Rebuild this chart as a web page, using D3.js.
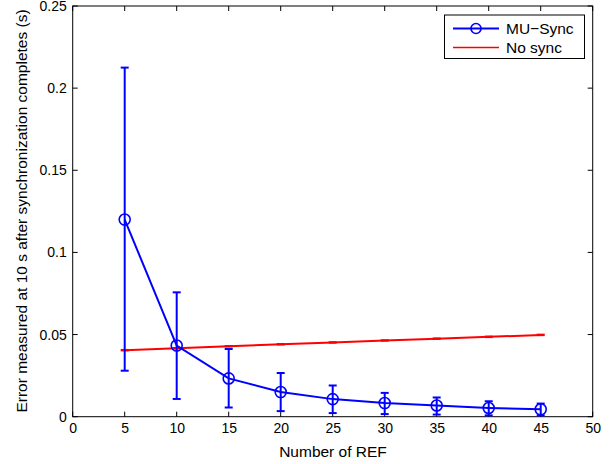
<!DOCTYPE html>
<html><head><meta charset="utf-8">
<script src="https://cdn.jsdelivr.net/npm/d3@7"></script>
<style>body{margin:0;background:#fff}svg{display:block}text{font-family:"Liberation Sans",Arial,sans-serif}</style>
</head><body><svg id="c" width="615" height="464"></svg>
<script>
const refCounts = [5,10,15,20,25,30,35,40,45];
const muSyncMean = [0.1200,0.0433,0.0233,0.0150,0.0107,0.0083,0.0068,0.0053,0.0045];
const muSyncUpper = [0.2125,0.0757,0.0412,0.0266,0.0190,0.0145,0.0117,0.0094,0.0080];
const muSyncLower = [0.0280,0.0108,0.0056,0.0034,0.0022,0.0016,0.0013,0.0008,0.0008];
const noSyncMean = [0.0405,0.0417,0.0429,0.0441,0.0452,0.0464,0.0475,0.0486,0.0498];
const noSyncErr = [0.0003,0.0003,0.0003,0.0003,0.0003,0.0003,0.0003,0.0003,0.0003];
const xTicks = [0,5,10,15,20,25,30,35,40,45,50];
const yTicks = [0,0.05,0.1,0.15,0.2,0.25];
const yTickLabels = ["0","0.05","0.1","0.15","0.2","0.25"];
const seriesNames = ["MU\u2212Sync","No sync"];

const svg = d3.select("#c");
const L=72.7,R=592.7,T=6,B=416.7;
const x = d3.scaleLinear().domain([0,50]).range([L,R]);
const y = d3.scaleLinear().domain([0,0.25]).range([B,T]);

// frame
svg.append("rect").attr("x",L).attr("y",T).attr("width",R-L).attr("height",B-T)
  .attr("fill","none").attr("stroke","#000").attr("stroke-width",1);

// axes
const xb = svg.append("g").attr("transform",`translate(0,${B})`)
  .call(d3.axisBottom(x).tickValues(xTicks).tickSize(0).tickPadding(6).tickFormat(d3.format("d")));
const yl = svg.append("g").attr("transform",`translate(${L},0)`)
  .call(d3.axisLeft(y).tickValues(yTicks).tickSize(0).tickPadding(6).tickFormat((d,i)=>yTickLabels[i]));
[xb,yl].forEach(g=>{g.select(".domain").remove();g.selectAll("text").attr("font-size",14).attr("fill","#000").style("font-family","'Liberation Sans',Arial,sans-serif");});
// inward ticks on all sides
const tk = svg.append("g").attr("stroke","#000").attr("stroke-width",1);
xTicks.forEach(v=>{
  tk.append("line").attr("x1",x(v)).attr("x2",x(v)).attr("y1",B).attr("y2",B-5);
  tk.append("line").attr("x1",x(v)).attr("x2",x(v)).attr("y1",T).attr("y2",T+5);
});
yTicks.forEach(v=>{
  tk.append("line").attr("x1",L).attr("x2",L+5).attr("y1",y(v)).attr("y2",y(v));
  tk.append("line").attr("x1",R).attr("x2",R-5).attr("y1",y(v)).attr("y2",y(v));
});

// axis labels
svg.append("text").attr("x",333).attr("y",457).attr("text-anchor","middle").attr("font-size",15.5).text("Number of REF");
svg.append("text").attr("transform",`translate(27,211) rotate(-90)`).attr("text-anchor","middle").attr("font-size",15.5)
  .text("Error measured at 10 s after synchronization completes (s)");

const line = d3.line().x(d=>x(d[0])).y(d=>y(d[1]));
const capW = 4;

// No sync (red)
const red="#ff0000";
svg.append("path").datum(refCounts.map((r,i)=>[r,noSyncMean[i]])).attr("d",line)
  .attr("fill","none").attr("stroke",red).attr("stroke-width",2);
refCounts.forEach((r,i)=>{
  const cx=x(r), y1=y(noSyncMean[i]+noSyncErr[i]), y2=y(noSyncMean[i]-noSyncErr[i]);
  svg.append("line").attr("x1",cx).attr("x2",cx).attr("y1",y1).attr("y2",y2).attr("stroke",red).attr("stroke-width",2);
  svg.append("line").attr("x1",cx-capW).attr("x2",cx+capW).attr("y1",y1).attr("y2",y1).attr("stroke",red).attr("stroke-width",1.5);
  svg.append("line").attr("x1",cx-capW).attr("x2",cx+capW).attr("y1",y2).attr("y2",y2).attr("stroke",red).attr("stroke-width",1.5);
});

// MU-Sync (blue)
const blue="#0000ff";
refCounts.forEach((r,i)=>{
  const cx=x(r), y1=y(muSyncUpper[i]), y2=y(muSyncLower[i]);
  svg.append("line").attr("x1",cx).attr("x2",cx).attr("y1",y1).attr("y2",y2).attr("stroke",blue).attr("stroke-width",2);
  svg.append("line").attr("x1",cx-capW).attr("x2",cx+capW).attr("y1",y1).attr("y2",y1).attr("stroke",blue).attr("stroke-width",2);
  svg.append("line").attr("x1",cx-capW).attr("x2",cx+capW).attr("y1",y2).attr("y2",y2).attr("stroke",blue).attr("stroke-width",2);
});
svg.append("path").datum(refCounts.map((r,i)=>[r,muSyncMean[i]])).attr("d",line)
  .attr("fill","none").attr("stroke",blue).attr("stroke-width",2);
svg.selectAll("circle.mu").data(refCounts).enter().append("circle").attr("class","mu")
  .attr("cx",d=>x(d)).attr("cy",(d,i)=>y(muSyncMean[i])).attr("r",5.5)
  .attr("fill","none").attr("stroke",blue).attr("stroke-width",1.6);

// legend
const lg = svg.append("g");
lg.append("rect").attr("x",444.5).attr("y",15).attr("width",140).attr("height",43.5)
  .attr("fill","#fff").attr("stroke","#000").attr("stroke-width",1);
lg.append("line").attr("x1",453).attr("x2",499).attr("y1",28.5).attr("y2",28.5).attr("stroke",blue).attr("stroke-width",2);
lg.append("circle").attr("cx",476).attr("cy",28.5).attr("r",5).attr("fill","none").attr("stroke",blue).attr("stroke-width",1.6);
lg.append("line").attr("x1",453).attr("x2",499).attr("y1",47.5).attr("y2",47.5).attr("stroke",red).attr("stroke-width",1.5);
lg.append("text").attr("x",506).attr("y",34).attr("font-size",15.5).text(seriesNames[0]);
lg.append("text").attr("x",506).attr("y",53).attr("font-size",15.5).text(seriesNames[1]);
</script></body></html>
